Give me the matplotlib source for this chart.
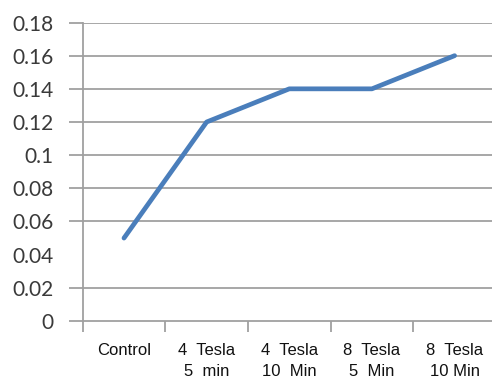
import matplotlib.pyplot as plt

CATEGORIES = ["Control", "4  Tesla\n5  min", "4  Tesla\n10  Min", "8  Tesla\n5  Min", "8  Tesla\n10 Min"]
VALUES = [0.05, 0.12, 0.14, 0.14, 0.16]
Y_TICKS = [0, 0.02, 0.04, 0.06, 0.08, 0.1, 0.12, 0.14, 0.16, 0.18]
Y_LABELS = ["0", "0.02", "0.04", "0.06", "0.08", "0.1", "0.12", "0.14", "0.16", "0.18"]
GRID_LEVELS = [0.02, 0.06, 0.08, 0.1, 0.12, 0.14, 0.16, 0.18]

GRID_COLOR = "#a0a0a0"
LINE_COLOR = "#4a7ebb"

fig = plt.figure(figsize=(4.92, 3.88), dpi=100)
ax = fig.add_axes([0.168, 0.1727, 0.84, 0.7693])

x = list(range(len(VALUES)))
for level in GRID_LEVELS:
    ax.axhline(level, color=GRID_COLOR, lw=1.3, zorder=1)
ax.plot(x, VALUES, color=LINE_COLOR, lw=3.4, solid_capstyle="round", zorder=3)

ax.set_xlim(-0.5, len(VALUES) - 0.5)
ax.set_ylim(0, 0.18)

for side in ("top", "right"):
    ax.spines[side].set_visible(False)
for side in ("left", "bottom"):
    ax.spines[side].set_color(GRID_COLOR)
    ax.spines[side].set_linewidth(1.3)

# y axis ticks
ax.set_yticks(Y_TICKS)
ax.set_yticklabels(Y_LABELS, fontsize=15, family="Lato", color="#3a3a3a")
ax.tick_params(axis="y", length=10, width=1.3, color=GRID_COLOR, pad=11)
ax.yaxis.get_major_ticks()[2].tick1line.set_visible(False)

# x axis: tick marks between categories, labels at the centres
ax.set_xticks([i - 0.5 for i in range(len(VALUES) + 1)])
ax.set_xticklabels([])
ax.tick_params(axis="x", which="major", length=8, width=1.3, color=GRID_COLOR, direction="out")
ax.set_xticks(x, minor=True)
ax.set_xticklabels(CATEGORIES, minor=True, fontsize=12, family="Liberation Sans",
                   color="#111111", linespacing=1.45)
ax.tick_params(axis="x", which="minor", length=0, pad=16)

fig.savefig("out.png", dpi=100)
